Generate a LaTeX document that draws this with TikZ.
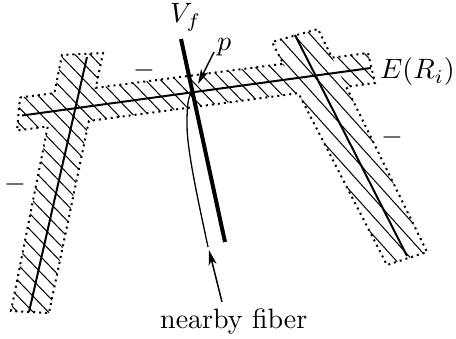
\documentclass[tikz,border=0pt]{standalone}
\usetikzlibrary{arrows.meta}
\newcommand{\bigtxt}[1]{\scalebox{2.8}{#1}}
\tikzset{
  outline/.style={line width=2pt, dash pattern=on 2pt off 4pt},
  hatchline/.style={line width=1pt},
  axisline/.style={line width=2pt},
  fiberline/.style={line width=4pt},
  thinline/.style={line width=1.3pt},
  arr/.style={line width=1.5pt, -{Stealth[length=15pt,width=8pt,inset=4pt]}},
  lbl/.style={inner sep=0pt},
}
\begin{document}
\begin{tikzpicture}[x=1pt,y=-1pt]
\useasboundingbox (0,0) rectangle (456,339);
% band
\coordinate (BTL) at (20,97.5);
\coordinate (BTR) at (368,53);
\coordinate (BBR) at (375,83);
\coordinate (BBL) at (17,130.5);
% left strip
\coordinate (LTL) at (62,55);
\coordinate (LTR) at (103,53);
\coordinate (LBR) at (49,313);
\coordinate (LBL) at (11,311);
% right strip
\coordinate (RTL) at (272,42);
\coordinate (RTR) at (318,29);
\coordinate (RBR) at (427,252);
\coordinate (RBL) at (387,265);
% hatching of band and left strip (outside right strip)
\begin{scope}
  \clip (BTL)--(BTR)--(BBR)--(BBL)--cycle (LTL)--(LTR)--(LBR)--(LBL)--cycle;
  \begin{scope}[even odd rule]
  \clip (-20,-20) rectangle (480,360) (RTL)--(RTR)--(RBR)--(RBL)--cycle;
  \foreach \c in {-335,-324,...,240}
    \draw[hatchline] ({\c*(-0.7193)-600*0.6947},{\c*0.6947-600*0.7193}) -- ({\c*(-0.7193)+600*0.6947},{\c*0.6947+600*0.7193});
  \end{scope}
\end{scope}
% hatching of right strip
\begin{scope}
  \clip (RTL)--(RTR)--(RBR)--(RBL)--cycle;
  \foreach \c in {-345,-332.5,...,240}
    \draw[hatchline] ({\c*(-0.7431)-600*0.6691},{\c*0.6691-600*0.7431}) -- ({\c*(-0.7431)+600*0.6691},{\c*0.6691+600*0.7431});
\end{scope}
% union outline
\draw[outline] (BTL)
  -- (intersection of BTL--BTR and LTL--LBL) -- (LTL) -- (LTR)
  -- (intersection of LTR--LBR and BTL--BTR)
  -- (intersection of BTL--BTR and RTL--RBL) -- (RTL) -- (RTR)
  -- (intersection of RTR--RBR and BTL--BTR)
  -- (BTR) -- (BBR)
  -- (intersection of BBR--BBL and RTR--RBR) -- (RBR) -- (RBL)
  -- (intersection of RTL--RBL and BBR--BBL)
  -- (intersection of BBR--BBL and LTR--LBR) -- (LBR) -- (LBL)
  -- (intersection of LTL--LBL and BBR--BBL)
  -- (BBL) -- cycle;
% axis lines
\coordinate (Lt) at (87,57);
\coordinate (Lb) at (29,312);
\coordinate (Rt) at (295,35);
\coordinate (Rb) at (407,256);
\coordinate (El) at (22,115.5);
\coordinate (Er) at (371,68);
\draw[axisline] (Lt) -- (Lb);
\draw[axisline] (Rt) -- (Rb);
\draw[axisline] (El) -- (Er);
% V_f
\coordinate (Vt) at (181,39);
\coordinate (Vb) at (225,242);
\draw[fiberline] (Vt) -- (Vb);
% nearby fiber
\coordinate (Ft) at (192,92);
\coordinate (Fm) at (187,125);
\coordinate (Fb) at (208,247);
\draw[thinline] (Ft) .. controls (188,97) and (187,105) .. (Fm)
  .. controls (187,150) and (198,200) .. (Fb);
% labels
\node[lbl, anchor=base west] (vf) at (170,23) {\bigtxt{$V_f$}};
\node[lbl, anchor=base west] (pl) at (217,51) {\bigtxt{$p$}};
\node[lbl, anchor=base west] (er) at (380,79) {\bigtxt{$E(R_i)$}};
\node[lbl, anchor=base west] (nf) at (160,329) {\bigtxt{nearby fiber}};
\node[lbl] (m1) at (144,71) {\bigtxt{$-$}};
\node[lbl] (m2) at (392,138) {\bigtxt{$-$}};
\node[lbl] (m3) at (15,185) {\bigtxt{$-$}};
% arrows
\coordinate (ptail) at (214,52);
\coordinate (ptip) at (198,84);
\draw[arr] (ptail) -- (ptip);
\coordinate (ntail) at (222,302);
\coordinate (ntip) at (209,250);
\draw[arr] (ntail) -- (ntip);
\end{tikzpicture}
\end{document}
